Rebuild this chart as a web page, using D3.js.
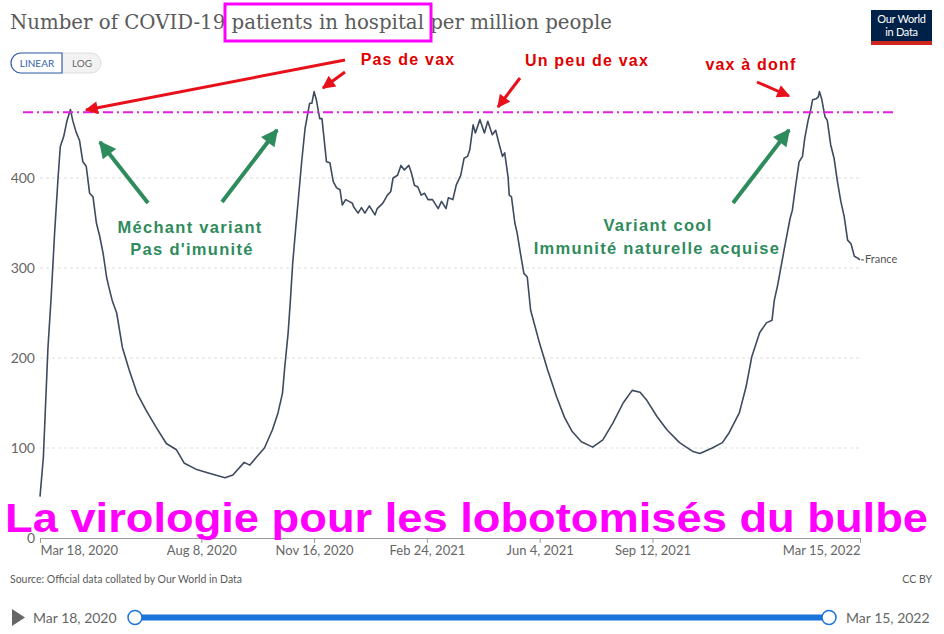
<!DOCTYPE html>
<html><head><meta charset="utf-8">
<script src="https://cdn.jsdelivr.net/npm/d3@7/dist/d3.min.js"></script>
<style>
body{margin:0;background:#fff;}
svg{display:block;}
</style></head>
<body>
<svg id="c" width="944" height="634"></svg>
<script>
const dates = ["2020-03-18","2020-03-21","2020-03-25","2020-03-28","2020-03-31","2020-04-03","2020-04-05","2020-04-08","2020-04-11","2020-04-14","2020-04-16","2020-04-19","2020-04-22","2020-04-25","2020-04-28","2020-05-01","2020-05-04","2020-05-07","2020-05-10","2020-05-13","2020-05-16","2020-05-18","2020-05-21","2020-05-25","2020-05-30","2020-06-05","2020-06-12","2020-06-20","2020-06-29","2020-07-08","2020-07-17","2020-07-24","2020-08-04","2020-08-15","2020-08-29","2020-09-05","2020-09-15","2020-09-20","2020-09-26","2020-10-03","2020-10-10","2020-10-15","2020-10-19","2020-10-21","2020-10-24","2020-10-26","2020-10-28","2020-10-31","2020-11-05","2020-11-08","2020-11-12","2020-11-14","2020-11-16","2020-11-18","2020-11-21","2020-11-23","2020-11-27","2020-11-30","2020-12-03","2020-12-06","2020-12-09","2020-12-11","2020-12-14","2020-12-17","2020-12-20","2020-12-21","2020-12-25","2020-12-28","2020-12-31","2021-01-04","2021-01-09","2021-01-11","2021-01-16","2021-01-20","2021-01-23","2021-01-25","2021-01-29","2021-02-01","2021-02-04","2021-02-08","2021-02-10","2021-02-13","2021-02-16","2021-02-19","2021-02-22","2021-02-25","2021-03-01","2021-03-06","2021-03-09","2021-03-13","2021-03-15","2021-03-19","2021-03-22","2021-03-26","2021-03-29","2021-04-01","2021-04-03","2021-04-06","2021-04-08","2021-04-12","2021-04-16","2021-04-19","2021-04-23","2021-04-26","2021-04-29","2021-05-02","2021-05-04","2021-05-07","2021-05-08","2021-05-10","2021-05-13","2021-05-15","2021-05-18","2021-05-21","2021-05-24","2021-05-27","2021-06-04","2021-06-11","2021-06-19","2021-06-26","2021-07-03","2021-07-11","2021-07-21","2021-07-30","2021-08-08","2021-08-17","2021-08-25","2021-09-01","2021-09-07","2021-09-16","2021-09-25","2021-10-06","2021-10-18","2021-10-24","2021-11-04","2021-11-13","2021-11-19","2021-11-28","2021-12-04","2021-12-09","2021-12-16","2021-12-22","2021-12-27","2021-12-29","2022-01-01","2022-01-07","2022-01-12","2022-01-14","2022-01-17","2022-01-20","2022-01-23","2022-01-25","2022-01-28","2022-01-30","2022-02-01","2022-02-04","2022-02-06","2022-02-07","2022-02-09","2022-02-12","2022-02-14","2022-02-17","2022-02-20","2022-02-23","2022-02-26","2022-03-01","2022-03-04","2022-03-07","2022-03-10","2022-03-13","2022-03-15"];
const france = [46,90,210,270,340,400,435,446,464,476,464,451,442,418,413,383,379,350,335,316,290,279,264,250,212,187,161,142,123,105,98,83,76,72,67,70,84,81,90,100,120,139,161,190,228,264,305,348,418,455,483,483,496,487,466,466,418,417,396,389,387,370,376,374,372,368,361,367,361,369,359,366,372,381,385,400,403,414,409,414,407,392,390,381,383,376,376,366,374,366,378,376,392,403,422,424,431,459,450,465,450,463,448,453,438,424,428,401,381,379,350,339,316,294,290,253,216,187,157,134,118,107,101,109,128,150,164,162,153,135,120,106,96,94,100,106,117,139,168,201,228,239,242,264,281,322,355,364,392,418,424,444,464,474,487,488,490,496,488,468,464,437,422,396,374,357,331,327,313,311,309];
const yTicks = [0,100,200,300,400];
const xTickDates = ["2020-03-18","2020-08-08","2020-11-16","2021-02-24","2021-06-04","2021-09-12","2022-03-15"];
const refLevel = 473;

const parse = d3.timeParse("%Y-%m-%d");
const fmt = d3.timeFormat("%b %-d, %Y");
const data = dates.map((d,i)=>({date:parse(d), v:france[i]}));

const svg = d3.select("#c");
const x = d3.scaleTime().domain([parse("2020-03-18"), parse("2022-03-15")]).range([40,860]);
const y = d3.scaleLinear().domain([0,500]).range([538,88]);

// Title
svg.append("text").attr("x",10).attr("y",29)
  .attr("font-family","'DejaVu Serif', serif").attr("font-size",21).attr("fill","#5b5b5b")
  .attr("textLength",602).attr("lengthAdjust","spacingAndGlyphs")
  .text("Number of COVID-19 patients in hospital per million people");
svg.append("rect").attr("x",225).attr("y",4).attr("width",206).attr("height",37)
  .attr("fill","none").attr("stroke","#ff00ff").attr("stroke-width",3);

// Logo
const logo = svg.append("g");
logo.append("rect").attr("x",871).attr("y",10).attr("width",61).attr("height",35).attr("fill","#002147");
logo.append("rect").attr("x",871).attr("y",41).attr("width",61).attr("height",4).attr("fill","#ce261e");
logo.append("text").attr("x",901.5).attr("y",23).attr("text-anchor","middle").attr("fill","#fff")
  .attr("font-family","Lato, sans-serif").attr("font-size",11).attr("letter-spacing",-0.3).text("Our World");
logo.append("text").attr("x",901.5).attr("y",36).attr("text-anchor","middle").attr("fill","#fff")
  .attr("font-family","Lato, sans-serif").attr("font-size",11).attr("letter-spacing",-0.3).text("in Data");

// LINEAR / LOG toggle
const tg = svg.append("g");
tg.append("rect").attr("x",11).attr("y",53).attr("width",90).attr("height",20).attr("rx",10)
  .attr("fill","#f2f2f2").attr("stroke","#ddd");
tg.append("path").attr("d","M62,53 H21 A10,10 0 0 0 21,73 H62 Z").attr("fill","#fff").attr("stroke","#3360a9").attr("stroke-width",1.2);
tg.append("text").attr("x",37).attr("y",67).attr("text-anchor","middle").attr("font-family","Lato, sans-serif")
  .attr("font-size",10).attr("fill","#3360a9").text("LINEAR");
tg.append("text").attr("x",82).attr("y",67).attr("text-anchor","middle").attr("font-family","Lato, sans-serif")
  .attr("font-size",10).attr("fill","#666").text("LOG");

// Gridlines & y labels
const grid = svg.append("g");
yTicks.forEach(t=>{
  if(t>0){
    grid.append("line").attr("x1",40).attr("x2",860).attr("y1",y(t)).attr("y2",y(t))
      .attr("stroke","#ddd").attr("stroke-dasharray","3,3");
  }
  grid.append("text").attr("x",35).attr("y",y(t)+5).attr("text-anchor","end")
    .attr("font-family","Lato, sans-serif").attr("font-size",14).attr("fill","#666").text(t);
});

// X axis
const xAxis = d3.axisBottom(x).tickValues(xTickDates.map(parse)).tickFormat(fmt).tickSize(5).tickPadding(3);
const xg = svg.append("g").attr("transform","translate(0,538)").call(xAxis);
xg.select(".domain").attr("stroke","#999");
xg.selectAll(".tick line").attr("stroke","#999");
const nT = xTickDates.length;
xg.selectAll(".tick text").attr("font-family","Lato, sans-serif").attr("font-size",13).attr("fill","#666")
  .attr("text-anchor",(d,i)=> i===0 ? "start" : (i===nT-1 ? "end" : "middle"));

// Line
const line = d3.line().x(d=>x(d.date)).y(d=>y(d.v)).curve(d3.curveLinear);
svg.append("path").datum(data).attr("d",line).attr("fill","none").attr("stroke","#3e4a5e").attr("stroke-width",1.6).attr("stroke-linejoin","round");

// France label
const last = data[data.length-1];
svg.append("line").attr("x1",x(last.date)+1).attr("x2",x(last.date)+4).attr("y1",y(last.v)).attr("y2",y(last.v)).attr("stroke","#555");
svg.append("text").attr("x",x(last.date)+5).attr("y",y(last.v)+3).attr("font-family","Lato, sans-serif")
  .attr("font-size",11).attr("fill","#555").text("France");

// Reference dash-dot line
svg.append("line").attr("x1",23).attr("x2",895).attr("y1",y(refLevel)).attr("y2",y(refLevel))
  .attr("stroke","#e020e0").attr("stroke-width",2).attr("stroke-dasharray","10,4,2,4");

// Arrows
const defs = svg.append("defs");
function marker(id,color,w,h){
  defs.append("marker").attr("id",id).attr("viewBox","0 0 10 10").attr("refX",9).attr("refY",5)
    .attr("markerWidth",w).attr("markerHeight",h).attr("markerUnits","userSpaceOnUse").attr("orient","auto")
    .append("path").attr("d","M0,0 L10,5 L0,10 Z").attr("fill",color);
}
marker("ar","#e8101a",17,13);
marker("ag","#2e8b5c",18,17);
const redArrows = [[345,60,86,110],[345,72,323,88],[520,78,498,107],[757,82,789,96]];
redArrows.forEach(a=>svg.append("line").attr("x1",a[0]).attr("y1",a[1]).attr("x2",a[2]).attr("y2",a[3])
  .attr("stroke","#e8101a").attr("stroke-width",3).attr("marker-end","url(#ar)"));
const greenArrows = [[148,203,100,142],[222,202,277,130],[733,203,789,130]];
greenArrows.forEach(a=>svg.append("line").attr("x1",a[0]).attr("y1",a[1]).attr("x2",a[2]).attr("y2",a[3])
  .attr("stroke","#2e8b5c").attr("stroke-width",4).attr("marker-end","url(#ag)"));

// Annotation texts
const redTxt = [["Pas de vax",408,65],["Un peu de vax",587,66],["vax à donf",751,70]];
redTxt.forEach(t=>svg.append("text").attr("x",t[1]).attr("y",t[2]).attr("text-anchor","middle")
  .attr("font-family","'Liberation Sans', Arial, sans-serif").attr("font-weight","bold").attr("font-size",16)
  .attr("fill","#e00000").attr("letter-spacing",1.2).text(t[0]));
const greenTxt = [["Méchant variant",190,233],["Pas d'imunité",192,255],["Variant cool",658,231],["Immunité naturelle acquise",657,254]];
greenTxt.forEach(t=>svg.append("text").attr("x",t[1]).attr("y",t[2]).attr("text-anchor","middle")
  .attr("font-family","'Liberation Sans', Arial, sans-serif").attr("font-weight","bold").attr("font-size",16.5)
  .attr("fill","#2e8b5c").attr("letter-spacing",1.3).text(t[0]));

// Big magenta text
svg.append("text").attr("x",5).attr("y",532).attr("font-family","'Liberation Sans', Arial, sans-serif")
  .attr("font-weight","bold").attr("font-size",40).attr("fill","#ff00ff")
  .attr("textLength",923).attr("lengthAdjust","spacingAndGlyphs")
  .text("La virologie pour les lobotomisés du bulbe");

// Footer
svg.append("text").attr("x",10).attr("y",583).attr("font-family","Lato, sans-serif").attr("font-size",10.5)
  .attr("fill","#5b5b5b").text("Source: Official data collated by Our World in Data");
svg.append("text").attr("x",932).attr("y",583).attr("text-anchor","end").attr("font-family","Lato, sans-serif").attr("font-size",10.5)
  .attr("fill","#5b5b5b").text("CC BY");

// Timeline
svg.append("path").attr("d","M12,609 L25,617.5 L12,626 Z").attr("fill","#666");
svg.append("text").attr("x",33).attr("y",623).attr("font-family","Lato, sans-serif").attr("font-size",14)
  .attr("fill","#666").text(fmt(parse(dates[0])));
svg.append("text").attr("x",846).attr("y",623).attr("font-family","Lato, sans-serif").attr("font-size",14)
  .attr("fill","#666").text(fmt(parse(dates[dates.length-1])));
svg.append("line").attr("x1",135).attr("x2",829).attr("y1",617.5).attr("y2",617.5).attr("stroke","#1a74d9").attr("stroke-width",6);
[135,829].forEach(cx=>svg.append("circle").attr("cx",cx).attr("cy",617.5).attr("r",7)
  .attr("fill","#fff").attr("stroke","#1a74d9").attr("stroke-width",1.5));
</script>
</body></html>
